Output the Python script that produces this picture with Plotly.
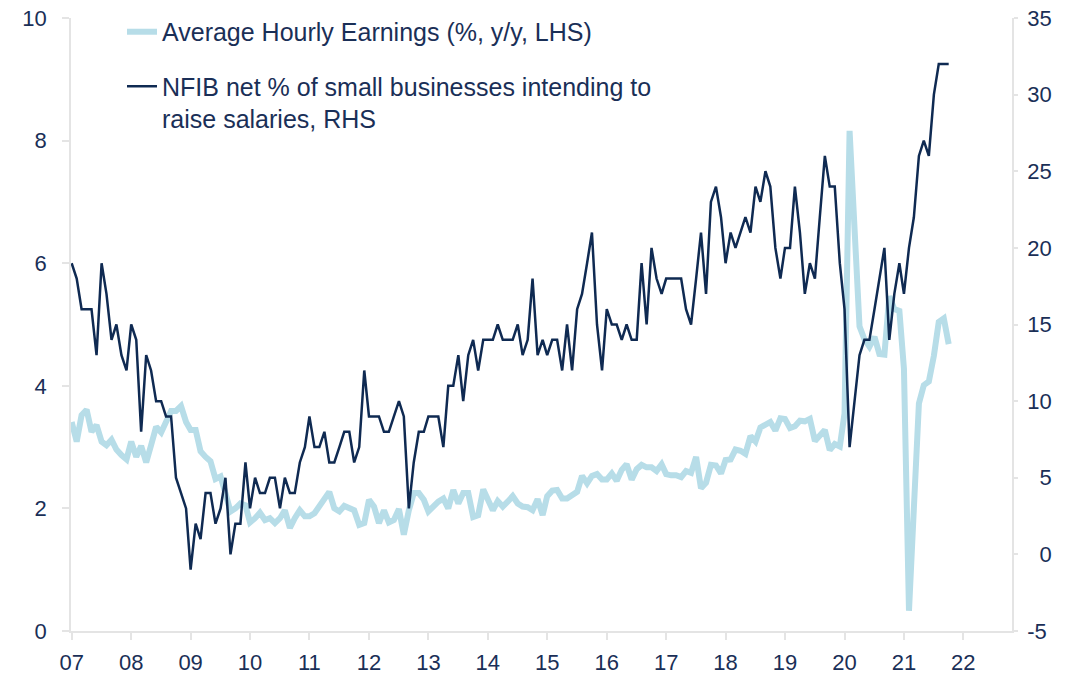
import pandas as pd
import plotly.graph_objects as go

# Monthly data, March 2007 - December 2021
start_month = "2007-03-01"
n_months = 178

ahe = [3.41, 3.09, 3.52, 3.61, 3.25, 3.36, 3.09, 3.03, 3.12, 2.96, 2.87, 2.80,
       3.09, 2.84, 3.02, 2.75, 3.03, 3.33, 3.24, 3.39, 3.59, 3.59, 3.67, 3.41,
       3.28, 3.28, 2.93, 2.84, 2.77, 2.48, 2.52, 2.25, 1.95, 2.00, 2.08, 2.05,
       1.77, 1.84, 1.93, 1.81, 1.84, 1.76, 1.84, 1.97, 1.68, 1.84, 1.97, 1.87,
       1.87, 1.92, 2.05, 2.16, 2.27, 2.00, 1.95, 2.04, 2.00, 1.97, 1.73, 1.76,
       2.14, 2.03, 1.76, 1.97, 1.77, 1.81, 1.99, 1.57, 1.97, 2.25, 2.25, 2.14,
       1.95, 2.04, 2.11, 2.16, 2.00, 2.30, 2.08, 2.25, 2.25, 1.86, 1.89, 2.31,
       2.14, 1.97, 2.12, 2.03, 2.11, 2.20, 2.08, 2.03, 2.02, 1.97, 2.15, 1.89,
       2.20, 2.29, 2.30, 2.16, 2.16, 2.21, 2.27, 2.53, 2.41, 2.53, 2.56, 2.47,
       2.47, 2.57, 2.45, 2.63, 2.72, 2.47, 2.64, 2.71, 2.67, 2.67, 2.61, 2.72,
       2.56, 2.54, 2.54, 2.51, 2.61, 2.58, 2.84, 2.33, 2.42, 2.71, 2.70, 2.57,
       2.79, 2.80, 2.96, 2.94, 2.89, 3.18, 3.09, 3.32, 3.36, 3.41, 3.27, 3.47,
       3.46, 3.31, 3.34, 3.43, 3.42, 3.46, 3.10, 3.20, 3.28, 2.95, 3.05, 3.01,
       3.55, 8.16, 6.60, 4.97, 4.76, 4.64, 4.80, 4.52, 4.51, 5.46, 5.25, 5.22,
       4.28, 0.33, 2.00, 3.71, 4.01, 4.07, 4.49, 5.04, 5.10, 4.68]

nfib = [19, 18, 16, 16, 16, 13, 19, 17, 14, 15, 13, 12,
        15, 14, 8, 13, 12, 10, 10, 9, 9, 5, 4, 3,
        -1, 2, 1, 4, 4, 2, 3, 5, 0, 2, 2, 6,
        3, 5, 4, 4, 5, 5, 3, 5, 4, 4, 6, 7,
        9, 7, 7, 8, 6, 6, 7, 8, 8, 6, 7, 12,
        9, 9, 9, 8, 8, 9, 10, 9, 3, 6, 8, 8,
        9, 9, 9, 7, 11, 11, 13, 10, 13, 14, 12, 14,
        14, 14, 15, 14, 14, 14, 15, 13, 14, 18, 13, 14,
        13, 14, 14, 12, 15, 12, 16, 17, 19, 21, 15, 12,
        16, 15, 15, 14, 15, 14, 14, 19, 15, 20, 18, 17,
        18, 18, 18, 18, 16, 15, 18, 21, 17, 23, 24, 22,
        19, 21, 20, 21, 22, 21, 24, 23, 25, 24, 20, 18,
        20, 20, 24, 21, 17, 19, 18, 22, 26, 24, 24, 19,
        16, 7, 10, 13, 14, 14, 16, 18, 20, 14, 17, 19,
        17, 20, 22, 26, 27, 26, 30, 32, 32, 32]

x_tick_labels = ["07", "08", "09", "10", "11", "12", "13", "14", "15",
                 "16", "17", "18", "19", "20", "21", "22"]
y_left_ticks = [0, 2, 4, 6, 8, 10]
y_right_ticks = [-5, 0, 5, 10, 15, 20, 25, 30, 35]
y_right_labels = ["-5", "\u20070", "\u20075", "10", "15", "20", "25", "30", "35"]

series_names = ["Average Hourly Earnings (%, y/y, LHS)",
                "NFIB net % of small businesses intending to<br>raise salaries, RHS"]

dates = pd.date_range(start_month, periods=n_months, freq="MS")
x_tick_vals = pd.date_range(start_month, periods=len(x_tick_labels), freq="12MS")

NAVY = "#0f2a52"
LIGHT = "#b7dde8"
TEXT = "#1a2f57"
AXIS = "#e4e4e4"
FONT = "Liberation Sans, Arial, sans-serif"

fig = go.Figure()
fig.add_trace(go.Scatter(x=dates, y=ahe, name=series_names[0], mode="lines",
                         line=dict(color=LIGHT, width=6), legendgroup="a"))
fig.add_trace(go.Scatter(x=dates, y=nfib, name=series_names[1], mode="lines",
                         yaxis="y2", line=dict(color=NAVY, width=2.5),
                         legendgroup="b"))

fig.update_layout(
    width=1080, height=674,
    margin=dict(l=71, r=68, t=18, b=43, autoexpand=False),
    paper_bgcolor="white", plot_bgcolor="white",
    font=dict(family=FONT, color=TEXT, size=22),
    showlegend=True,
    legend=dict(x=0.0542, y=1.0147, xanchor="left", yanchor="top",
                font=dict(size=25, color=TEXT, family=FONT),
                bgcolor="rgba(0,0,0,0)", valign="top", tracegroupgap=19),
    xaxis=dict(type="date", range=["2007-02-25", "2022-12-25"],
               tickvals=list(x_tick_vals), ticktext=x_tick_labels,
               showgrid=False, zeroline=False, showline=True, automargin=False,
               linecolor=AXIS, linewidth=1.5, ticks="outside", ticklen=7,
               tickcolor=AXIS, tickwidth=1.5, ticklabelstandoff=4,
               ticklabeloverflow="allow",
               tickfont=dict(size=22, color=TEXT, family=FONT)),
    yaxis=dict(range=[0, 10], tickvals=y_left_ticks,
               showgrid=False, zeroline=False, showline=True, automargin=False,
               linecolor=AXIS, linewidth=1.5, ticks="outside", ticklen=7,
               tickcolor=AXIS, tickwidth=1.5, ticklabelstandoff=11,
               ticklabeloverflow="allow",
               tickfont=dict(size=22, color=TEXT, family=FONT)),
    yaxis2=dict(range=[-5, 35], tickvals=y_right_ticks, ticktext=y_right_labels,
                overlaying="y", side="right", automargin=False,
                showgrid=False, zeroline=False, showline=True,
                linecolor=AXIS, linewidth=1.5, ticks="outside", ticklen=4,
                tickcolor=AXIS, tickwidth=1.5, ticklabelstandoff=5,
                ticklabeloverflow="allow",
                tickfont=dict(size=22, color=TEXT, family=FONT)),
)

# Remove the default page margin so the figure fills the 1080x674 window.
fig.write_html("out.html",
               config={"displayModeBar": False},
               post_script="document.body.style.margin='0px';"
                           "document.body.style.overflow='hidden';")
